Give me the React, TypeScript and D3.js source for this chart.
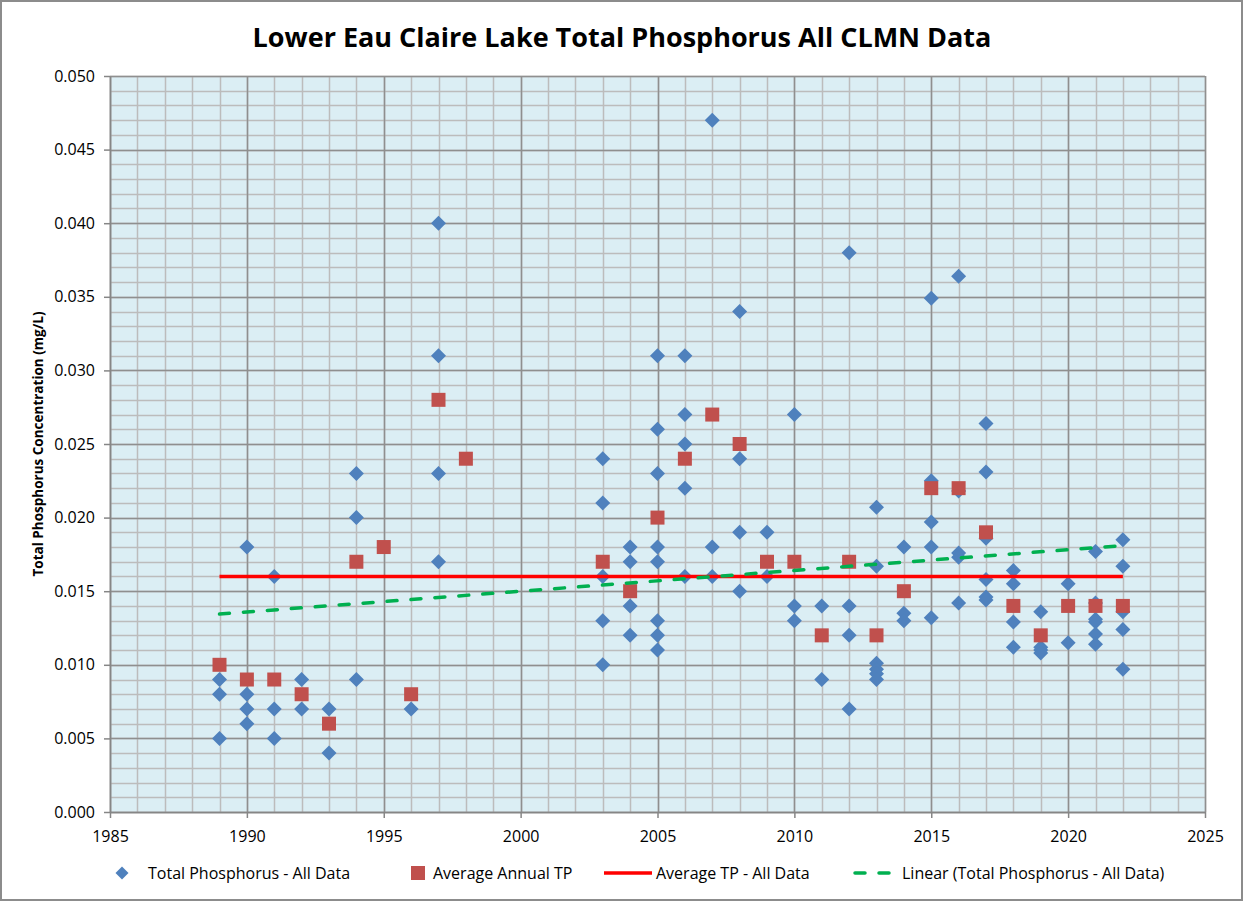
import { useEffect, useRef } from "react";
import * as d3 from "d3";

const sampleYears = [
  1989, 1989, 1989,
  1990, 1990, 1990, 1990,
  1991, 1991, 1991,
  1992, 1992,
  1993, 1993,
  1994, 1994, 1994,
  1996,
  1997, 1997, 1997, 1997,
  2003, 2003, 2003, 2003, 2003,
  2004, 2004, 2004, 2004,
  2005, 2005, 2005, 2005, 2005, 2005, 2005, 2005,
  2006, 2006, 2006, 2006, 2006,
  2007, 2007, 2007,
  2008, 2008, 2008, 2008,
  2009, 2009,
  2010, 2010, 2010,
  2011, 2011,
  2012, 2012, 2012, 2012,
  2013, 2013, 2013, 2013, 2013, 2013,
  2014, 2014, 2014,
  2015, 2015, 2015, 2015, 2015,
  2016, 2016, 2016, 2016, 2016,
  2017, 2017, 2017, 2017, 2017, 2017,
  2018, 2018, 2018, 2018,
  2019, 2019, 2019, 2019,
  2020, 2020,
  2021, 2021, 2021, 2021, 2021, 2021,
  2022, 2022, 2022, 2022, 2022
];
const sampleTP = [
  0.009, 0.008, 0.005,
  0.018, 0.008, 0.007, 0.006,
  0.016, 0.007, 0.005,
  0.009, 0.007,
  0.007, 0.004,
  0.023, 0.02, 0.009,
  0.007,
  0.04, 0.031, 0.023, 0.017,
  0.024, 0.021, 0.016, 0.013, 0.01,
  0.018, 0.017, 0.014, 0.012,
  0.031, 0.026, 0.023, 0.018, 0.017, 0.013, 0.012, 0.011,
  0.031, 0.027, 0.025, 0.022, 0.016,
  0.047, 0.018, 0.016,
  0.034, 0.024, 0.019, 0.015,
  0.019, 0.016,
  0.027, 0.014, 0.013,
  0.014, 0.009,
  0.038, 0.014, 0.012, 0.007,
  0.0207, 0.0167, 0.0101, 0.0097, 0.0094, 0.009,
  0.018, 0.0135, 0.013,
  0.0349, 0.0225, 0.0197, 0.018, 0.0132,
  0.0364, 0.0218, 0.0176, 0.0173, 0.0142,
  0.0264, 0.0231, 0.0186, 0.0158, 0.0146, 0.0144,
  0.0164, 0.0155, 0.0129, 0.0112,
  0.0136, 0.0112, 0.011, 0.0108,
  0.0155, 0.0115,
  0.0177, 0.0142, 0.0131, 0.0129, 0.0121, 0.0114,
  0.0185, 0.0167, 0.0136, 0.0124, 0.0097
];

const annualYears = [1989, 1990, 1991, 1992, 1993, 1994, 1995, 1996, 1997, 1998, 2003, 2004, 2005, 2006, 2007, 2008, 2009, 2010, 2011, 2012, 2013, 2014, 2015, 2016, 2017, 2018, 2019, 2020, 2021, 2022];
const annualTP = [0.01, 0.009, 0.009, 0.008, 0.006, 0.017, 0.018, 0.008, 0.028, 0.024, 0.017, 0.015, 0.02, 0.024, 0.027, 0.025, 0.017, 0.017, 0.012, 0.017, 0.012, 0.015, 0.022, 0.022, 0.019, 0.014, 0.012, 0.014, 0.014, 0.014];

const avgYears = [1989, 2022];
const avgTP = [0.016, 0.016];

const trendYears = [1989, 2022];
const trendTP = [0.01345, 0.0181];

const xTicks = [1985, 1990, 1995, 2000, 2005, 2010, 2015, 2020, 2025];
const yTicks = [0, 0.005, 0.01, 0.015, 0.02, 0.025, 0.03, 0.035, 0.04, 0.045, 0.05];

const FONT = "'Open Sans', 'Liberation Sans', sans-serif";

export default function App() {
  const svgRef = useRef<SVGSVGElement | null>(null);

  useEffect(() => {
    if (!svgRef.current) return;
    const width = 1244;
    const height = 902;
    const margin = { top: 76, right: 39, bottom: 90, left: 110 };
    const innerW = width - margin.left - margin.right;
    const innerH = height - margin.top - margin.bottom;

    const x = d3.scaleLinear().domain([1985, 2025]).range([0, innerW]);
    const y = d3.scaleLinear().domain([0, 0.05]).range([innerH, 0]);

    const svg = d3.select(svgRef.current);
    svg.selectAll("*").remove();
    svg.attr("viewBox", `0 0 ${width} ${height}`);

    svg.append("rect")
      .attr("x", 1).attr("y", 1).attr("width", width - 3).attr("height", height - 3)
      .attr("fill", "#fff").attr("stroke", "#8c8c8c").attr("stroke-width", 2);

    svg.append("text")
      .attr("x", width / 2).attr("y", 47)
      .attr("text-anchor", "middle")
      .attr("font-family", FONT).attr("font-weight", "bold").attr("font-size", 27)
      .attr("fill", "#000")
      .text("Lower Eau Claire Lake Total Phosphorus All CLMN Data");

    const g = svg.append("g").attr("transform", `translate(${margin.left},${margin.top})`);

    g.append("rect").attr("width", innerW).attr("height", innerH).attr("fill", "#dbeef4");

    // minor grid
    const minorX = d3.range(1985, 2026, 1);
    const minorY = d3.range(0, 51, 1).map((d) => d / 1000);
    g.append("g").selectAll("line").data(minorX).enter().append("line")
      .attr("x1", (d) => Math.round(x(d)) + 0.5).attr("x2", (d) => Math.round(x(d)) + 0.5)
      .attr("y1", 0).attr("y2", innerH)
      .attr("stroke", "#bcbcbc").attr("stroke-width", 1.5);
    g.append("g").selectAll("line").data(minorY).enter().append("line")
      .attr("x1", 0).attr("x2", innerW)
      .attr("y1", (d) => Math.round(y(d)) + 0.5).attr("y2", (d) => Math.round(y(d)) + 0.5)
      .attr("stroke", "#bcbcbc").attr("stroke-width", 1.5);
    // major grid
    g.append("g").selectAll("line").data(xTicks).enter().append("line")
      .attr("x1", (d) => Math.round(x(d)) + 0.5).attr("x2", (d) => Math.round(x(d)) + 0.5)
      .attr("y1", 0).attr("y2", innerH)
      .attr("stroke", "#8f8f8f").attr("stroke-width", 1.5);
    g.append("g").selectAll("line").data(yTicks).enter().append("line")
      .attr("x1", 0).attr("x2", innerW)
      .attr("y1", (d) => Math.round(y(d)) + 0.5).attr("y2", (d) => Math.round(y(d)) + 0.5)
      .attr("stroke", "#8f8f8f").attr("stroke-width", 1.5);

    const styleAxis = (axis: any) => {
      axis.select(".domain").attr("stroke", "#868686").attr("stroke-width", 1.5);
      axis.selectAll("line").attr("stroke", "#868686").attr("stroke-width", 1.5);
      axis.selectAll("text").attr("fill", "#000").attr("font-size", 16).attr("font-family", FONT);
    };

    g.append("g")
      .attr("transform", `translate(0,${innerH})`)
      .call(d3.axisBottom(x).tickValues(xTicks).tickFormat(d3.format("d")).tickSize(6).tickSizeOuter(0).tickPadding(13))
      .call(styleAxis);

    g.append("g")
      .call(d3.axisLeft(y).tickValues(yTicks).tickFormat(d3.format(".3f")).tickSize(6).tickSizeOuter(0).tickPadding(9))
      .call(styleAxis);

    svg.append("text")
      .attr("transform", `translate(43,${margin.top + innerH / 2}) rotate(-90)`)
      .attr("text-anchor", "middle")
      .attr("font-family", FONT).attr("font-weight", "bold").attr("font-size", 13.5)
      .text("Total Phosphorus Concentration (mg/L)");

    const diamond = (cx: number, cy: number, r: number) =>
      `M${cx},${cy - r}L${cx + r},${cy}L${cx},${cy + r}L${cx - r},${cy}Z`;

    g.append("g").selectAll("path").data(sampleYears.map((yr, i) => [yr, sampleTP[i]])).enter()
      .append("path")
      .attr("d", (d) => diamond(x(d[0]), y(d[1]), 7.5))
      .attr("fill", "#4f81bd");

    g.append("g").selectAll("rect").data(annualYears.map((yr, i) => [yr, annualTP[i]])).enter()
      .append("rect")
      .attr("x", (d) => x(d[0]) - 7).attr("y", (d) => y(d[1]) - 7)
      .attr("width", 14).attr("height", 14)
      .attr("fill", "#c0504d");

    const line = d3.line<number>().x((d, i) => x(avgYears[i])).y((d) => y(d));
    g.append("path").attr("d", line(avgTP)).attr("fill", "none").attr("stroke", "#ff0000").attr("stroke-width", 3.5);

    const tline = d3.line<number>().x((d, i) => x(trendYears[i])).y((d) => y(d));
    g.append("path").attr("d", tline(trendTP)).attr("fill", "none").attr("stroke", "#00b050")
      .attr("stroke-width", 3.5).attr("stroke-dasharray", "10,14").attr("stroke-linecap", "round");

    // legend
    const ly = 873;
    const lg = svg.append("g").attr("font-family", FONT).attr("font-size", 16);
    lg.append("path").attr("d", diamond(122, ly, 6.5)).attr("fill", "#4f81bd");
    lg.append("text").attr("x", 148).attr("y", ly).attr("dy", "0.35em").text("Total Phosphorus - All Data");
    lg.append("rect").attr("x", 411).attr("y", ly - 7).attr("width", 14).attr("height", 14).attr("fill", "#c0504d");
    lg.append("text").attr("x", 433).attr("y", ly).attr("dy", "0.35em").text("Average Annual TP");
    lg.append("line").attr("x1", 604).attr("x2", 652).attr("y1", ly).attr("y2", ly).attr("stroke", "#ff0000").attr("stroke-width", 3.5);
    lg.append("text").attr("x", 656).attr("y", ly).attr("dy", "0.35em").text("Average TP - All Data");
    lg.append("line").attr("x1", 855).attr("x2", 890).attr("y1", ly).attr("y2", ly).attr("stroke", "#00b050")
      .attr("stroke-width", 3.5).attr("stroke-dasharray", "10,14").attr("stroke-linecap", "round");
    lg.append("text").attr("x", 902).attr("y", ly).attr("dy", "0.35em").text("Linear (Total Phosphorus - All Data)");
  }, []);

  return (
    <svg
      ref={svgRef}
      width={1244}
      height={902}
      style={{ position: "absolute", left: 0, top: 0, display: "block" }}
    />
  );
}
